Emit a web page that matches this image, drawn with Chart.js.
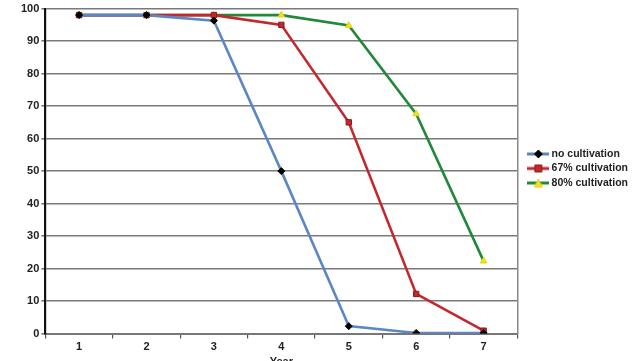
<!DOCTYPE html>
<html><head><meta charset="utf-8">
<script src="https://cdn.jsdelivr.net/npm/chart.js@4"></script>
<style>html,body{margin:0;padding:0;background:#fff;overflow:hidden;width:640px;height:361px}#w{width:640px;height:369px;position:relative}</style>
</head><body><div id="w"><canvas id="c"></canvas></div>
<script>
const years = ['1','2','3','4','5','6','7'];
const noCultivation = [98, 98, 96.3, 50, 2.3, 0.2, 0.2];
const cult67 = [98, 98, 98, 95, 65, 12.2, 0.9];
const cult80 = [98, 98, 98, 98, 94.8, 67.6, 22.3];
const seriesNames = ['no cultivation', '67% cultivation', '80% cultivation'];
const yTicks = [0,10,20,30,40,50,60,70,80,90,100];

const lineColors = ['#5b87c4', '#c4282c', '#23893a'];
const markerStyles = ['rectRot', 'rect', 'triangle'];
const markerFill = ['#000000', '#c4282c', '#f3e11e'];
const markerBorder = ['#000000', '#8a1a1c', '#e8d010'];

function legendIcon(i){
  const c = document.createElement('canvas');
  c.width = 22; c.height = 10;
  const g = c.getContext('2d');
  g.strokeStyle = lineColors[i]; g.lineWidth = 3;
  g.beginPath(); g.moveTo(0,5); g.lineTo(22,5); g.stroke();
  g.fillStyle = markerFill[i]; g.strokeStyle = markerBorder[i]; g.lineWidth = 1;
  g.beginPath();
  if (i === 0){ g.moveTo(11,1); g.lineTo(15,5); g.lineTo(11,9); g.lineTo(7,5); g.closePath(); }
  else if (i === 1){ g.rect(7.5,1.5,7,7); }
  else { g.moveTo(11,1); g.lineTo(15,9); g.lineTo(7,9); g.closePath(); }
  g.fill(); g.stroke();
  return c;
}
const icons = [legendIcon(0), legendIcon(1), legendIcon(2)];

const data = [noCultivation, cult67, cult80];
const datasets = data.map((d,i)=>({
  label: seriesNames[i],
  data: d,
  borderColor: lineColors[i],
  backgroundColor: lineColors[i],
  borderWidth: 2.6,
  pointStyle: markerStyles[i],
  pointRadius: i===0 ? 3.5 : 3.8,
  pointBackgroundColor: markerFill[i],
  pointBorderColor: markerBorder[i],
  pointBorderWidth: 1,
  tension: 0
}));

const font = {family: 'Liberation Sans, Arial, sans-serif', size: 11, weight: 'bold'};
const legendFont = {family: 'Liberation Sans, Arial, sans-serif', size: 10.5, weight: 'bold'};

const legendShift = {
  id: 'legendShift',
  afterLayout(chart){
    const lg = chart.legend;
    if (!lg) return;
    lg.top -= 17; lg.bottom -= 17;
    lg.left += 9; lg.right += 40;
  }
};

new Chart(document.getElementById('c'), {
  type: 'line',
  data: {labels: years, datasets},
  plugins: [legendShift],
  options: {
    responsive: true, maintainAspectRatio: false, animation: false,
    layout: {padding: {left: 19, top: 2, right: 23, bottom: 0}},
    plugins: {
      tooltip: {enabled: false},
      legend: {
        position: 'right', align: 'center',
        labels: {
          usePointStyle: true, pointStyleWidth: 16, boxHeight: 10,
          padding: 4, color: '#222', font: legendFont,
          generateLabels: (chart)=> chart.data.datasets.map((ds,i)=>({
            text: ds.label, pointStyle: icons[i], fillStyle: ds.borderColor,
            strokeStyle: ds.borderColor, lineWidth: 0, hidden: false, datasetIndex: i, fontColor: '#222'
          }))
        }
      }
    },
    scales: {
      x: {
        offset: true,
        grid: {offset: true, drawOnChartArea: false, drawTicks: true, tickLength: 5, color: '#555', lineWidth: 1.2},
        border: {display: true, color: '#777', width: 2},
        ticks: {color: '#222', font: font, padding: 2},
        title: {display: true, text: 'Year', color: '#222', font: font, padding: {top: 0, bottom: 0}}
      },
      y: {
        min: 0, max: 100,
        afterBuildTicks: (ax)=>{ ax.ticks = yTicks.map(v=>({value:v})); },
        grid: {color: '#7a7a7a', lineWidth: 1.6, drawTicks: true, tickLength: 4},
        border: {display: true, color: '#111', width: 2.2},
        ticks: {color: '#222', font: font, padding: 2}
      },
      y2: {
        position: 'right', min: 0, max: 100,
        grid: {drawOnChartArea: false, drawTicks: false},
        border: {display: true, color: '#888', width: 1.5},
        ticks: {display: false}
      }
    }
  }
});
</script>
</body></html>
